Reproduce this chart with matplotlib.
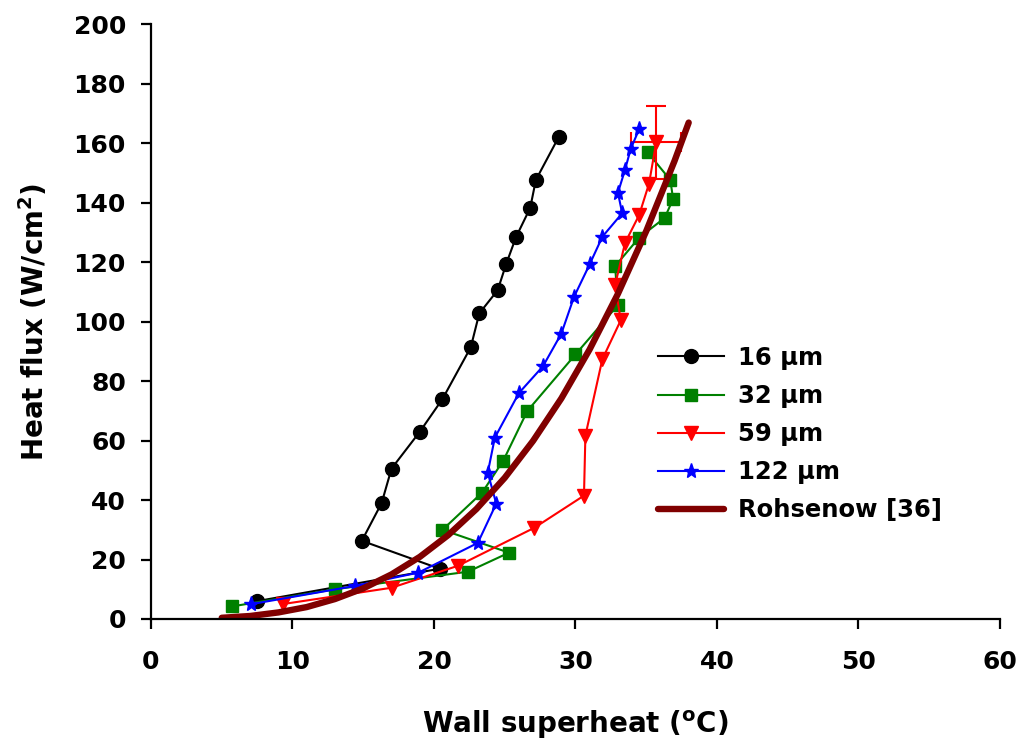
import matplotlib
matplotlib.use("Agg")
import matplotlib.pyplot as plt

# 16 um
x16 = [7.5, 20.4, 14.9, 16.3, 17.0, 19.0, 20.6, 22.6, 23.2, 24.5, 25.1, 25.8, 26.8, 27.2, 28.8]
y16 = [6.0, 16.9, 26.3, 39.0, 50.6, 63.0, 74.0, 91.4, 102.8, 110.6, 119.4, 128.5, 138.3, 147.7, 162.0]

# 32 um
x32 = [5.7, 13.0, 22.4, 25.3, 20.6, 23.4, 24.9, 26.6, 30.0, 33.0, 32.8, 34.5, 36.3, 36.9, 36.7, 35.1]
y32 = [4.2, 10.0, 15.9, 22.3, 30.0, 42.5, 53.3, 70.0, 89.0, 105.6, 118.7, 128.3, 134.9, 141.3, 147.7, 157.0]

# 59 um
x59 = [9.3, 17.0, 21.7, 27.1, 30.6, 30.7, 31.9, 33.2, 32.8, 33.5, 34.5, 35.2, 35.7]
y59 = [5.0, 10.5, 17.9, 30.7, 41.5, 61.7, 87.4, 100.5, 112.3, 126.5, 135.9, 146.5, 160.3]
# error bar on the last 59 um point
err_x = 1.75
err_y = 12.4

# 122 um
x122 = [7.1, 14.4, 18.9, 23.1, 24.4, 23.8, 24.3, 26.0, 27.7, 29.0, 29.9, 31.0, 31.9, 33.3, 33.0, 33.5, 33.9, 34.5]
y122 = [5.0, 11.1, 15.6, 25.6, 38.8, 49.2, 61.0, 76.0, 85.0, 96.0, 108.4, 119.3, 128.6, 136.5, 143.4, 151.1, 158.1, 164.8]

# Rohsenow correlation
xroh = [5, 7, 9, 11, 13, 15, 17, 19, 21, 23, 25, 27, 29, 31, 33, 35, 37, 38]
yroh = [0.4, 1.0, 2.2, 4.0, 6.7, 10.3, 15.0, 20.9, 28.2, 37.0, 47.5, 59.9, 74.2, 90.7, 109.4, 130.5, 154.1, 167.0]

plt.rcParams['font.family'] = ['DejaVu Sans']
plt.rcParams['font.weight'] = 'bold'
plt.rcParams['mathtext.default'] = 'bf'

fig = plt.figure(figsize=(10.23, 7.49), dpi=100)
ax = fig.add_axes([0.1476, 0.1736, 0.8299, 0.7937])

lw = 1.5
ax.plot(x16, y16, color='black', marker='o', ms=10, lw=lw, label='16 μm')
ax.plot(x32, y32, color='#008000', marker='s', ms=9, lw=lw, label='32 μm')
ax.plot(x59, y59, color='red', marker='v', ms=10, lw=lw, label='59 μm')
ax.errorbar(x59[-1], y59[-1], xerr=err_x, yerr=err_y, color='red', lw=lw,
            capsize=7, capthick=lw, fmt='none')
ax.plot(x122, y122, color='blue', marker='*', ms=11, lw=lw, label='122 μm')
ax.plot(xroh, yroh, color='#800000', lw=4.6, solid_capstyle='round', label='Rohsenow [36]')

ax.set_xlim(0, 60)
ax.set_ylim(0, 200)
ax.set_xticks(range(0, 61, 10))
ax.set_yticks(range(0, 201, 20))
ax.spines['top'].set_visible(False)
ax.spines['right'].set_visible(False)
for s in ['left', 'bottom']:
    ax.spines[s].set_linewidth(1.6)
ax.tick_params(direction='out', length=7, width=1.6, labelsize=18)
ax.tick_params(axis='x', pad=15)
ax.tick_params(axis='y', pad=11)

ax.set_xlabel(r'Wall superheat ($\mathbf{^o}$C)', fontsize=20, fontweight='bold', labelpad=25)
ax.set_ylabel(r'Heat flux (W/cm$\mathbf{^2}$)', fontsize=20, fontweight='bold', labelpad=17)

leg = ax.legend(loc='upper left', bbox_to_anchor=(658 / 1023, 1 - 346 / 749),
                bbox_transform=fig.transFigure, frameon=False, fontsize=17.5,
                handlelength=2.7, handletextpad=0.6, labelspacing=0.58,
                borderpad=0, borderaxespad=0, numpoints=1)

fig.savefig('out.png', dpi=100)
